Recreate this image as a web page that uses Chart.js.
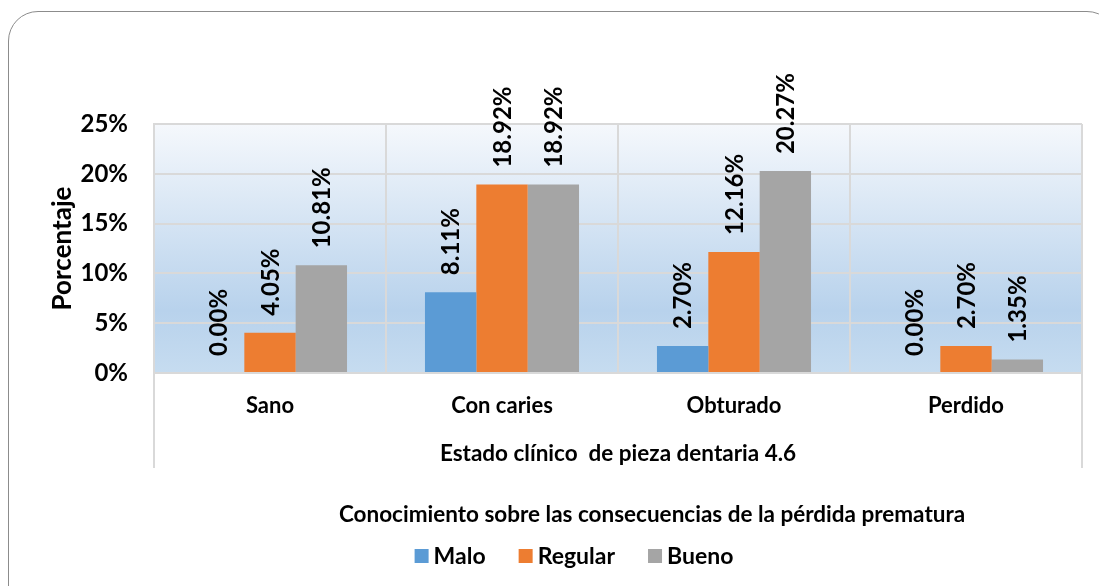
<!DOCTYPE html>
<html>
<head>
<meta charset="utf-8">
<script src="https://cdn.jsdelivr.net/npm/chart.js@4.4.0/dist/chart.umd.min.js"></script>
<style>
    html, body { margin: 0; padding: 0; background: #fff; overflow: hidden; }
    #frame {
        position: absolute; left: 8px; top: 11px; width: 1109px; height: 620px;
        border: 1.5px solid #8c8c8c; border-radius: 30px; box-sizing: border-box;
    }
    #chart { position: absolute; left: 0; top: 0; }
</style>
</head>
<body>
<div id="frame"></div>
<canvas id="chart" width="1099" height="586"></canvas>
<script>
const categories = ['Sano', 'Con caries', 'Obturado', 'Perdido'];
const malo = [0.00, 8.11, 2.70, 0.00];
const regular = [4.05, 18.92, 12.16, 2.70];
const bueno = [10.81, 18.92, 20.27, 1.35];
const seriesNames = ['Malo', 'Regular', 'Bueno'];
const seriesColors = ['#5b9bd5', '#ed7d31', '#a5a5a5'];
const yTicks = [0, 5, 10, 15, 20, 25];
const xTitle = 'Estado clínico  de pieza dentaria 4.6';
const yTitle = 'Porcentaje';
const legendTitle = 'Conocimiento sobre las consecuencias de la pérdida prematura';

const FONT = 'Lato';
const gridColor = '#d9d9d9';

// plot background gradient + frame lines under the axis labels
const backgroundPlugin = {
    id: 'plotBackground',
    beforeDraw(chart) {
        const { ctx, chartArea: a } = chart;
        const g = ctx.createLinearGradient(0, a.top, 0, a.bottom);
        g.addColorStop(0, '#f5f8fc');
        g.addColorStop(0.75, '#b8d2ec');
        g.addColorStop(1, '#c6dcf0');
        ctx.save();
        ctx.fillStyle = g;
        ctx.fillRect(a.left, a.top, a.right - a.left, a.bottom - a.top);
        ctx.restore();
    },
    afterDraw(chart) {
        const { ctx, chartArea: a } = chart;
        const xScale = chart.scales.x;
        ctx.save();
        ctx.strokeStyle = gridColor;
        ctx.lineWidth = 2;
        ctx.beginPath();
        ctx.moveTo(a.left, a.bottom);
        ctx.lineTo(a.left, xScale.bottom + 1);
        ctx.moveTo(a.right, a.bottom);
        ctx.lineTo(a.right, xScale.bottom + 1);
        ctx.stroke();
        ctx.restore();
    }
};

// rotated value labels above each bar
const valueLabels = {
    id: 'valueLabels',
    afterDatasetsDraw(chart) {
        const { ctx } = chart;
        ctx.save();
        ctx.fillStyle = '#000';
        ctx.font = 'bold 24px ' + FONT;
        ctx.textAlign = 'left';
        ctx.textBaseline = 'middle';
        chart.data.datasets.forEach((ds, i) => {
            chart.getDatasetMeta(i).data.forEach((bar, j) => {
                ctx.save();
                ctx.translate(bar.x + 1, bar.y - 17);
                ctx.rotate(-Math.PI / 2);
                ctx.fillText(ds.data[j].toFixed(2) + '%', 0, 0);
                ctx.restore();
            });
        });
        ctx.restore();
    }
};

// legend with its title, drawn under the x axis
const bottomLegend = {
    id: 'bottomLegend',
    afterDraw(chart) {
        const { ctx } = chart;
        const xScale = chart.scales.x;
        const a = chart.chartArea;
        ctx.save();
        ctx.fillStyle = '#000';
        ctx.textBaseline = 'middle';
        ctx.font = 'bold 22.5px ' + FONT;
        ctx.textAlign = 'center';
        const mid = (a.left + a.right) / 2;
        ctx.fillText(legendTitle, mid + 34, xScale.bottom + 48);

        ctx.font = 'bold 23px ' + FONT;
        const box = 14, gap = 5, spacing = 33;
        let total = 0;
        const widths = seriesNames.map(n => ctx.measureText(n).width);
        widths.forEach((w, i) => { total += box + gap + w + (i < widths.length - 1 ? spacing : 0); });
        let x = mid - 44 - total / 2;
        const y = xScale.bottom + 89;
        ctx.textAlign = 'left';
        seriesNames.forEach((n, i) => {
            ctx.fillStyle = seriesColors[i];
            ctx.fillRect(x, y - box / 2, box, box);
            ctx.fillStyle = '#000';
            ctx.fillText(n, x + box + gap, y + 1);
            x += box + gap + widths[i] + spacing;
        });
        ctx.restore();
    }
};

new Chart(document.getElementById('chart'), {
    type: 'bar',
    data: {
        labels: categories,
        datasets: [
            { label: seriesNames[0], data: malo, backgroundColor: seriesColors[0] },
            { label: seriesNames[1], data: regular, backgroundColor: seriesColors[1] },
            { label: seriesNames[2], data: bueno, backgroundColor: seriesColors[2] }
        ]
    },
    options: {
        responsive: false,
        animation: false,
        devicePixelRatio: 1,
        layout: { padding: { left: 47, right: 17, top: 124, bottom: 119 } },
        datasets: {
            bar: { categoryPercentage: 0.664, barPercentage: 1.0, borderWidth: 0 }
        },
        plugins: {
            legend: { display: false },
            tooltip: { enabled: false }
        },
        scales: {
            x: {
                grid: { color: gridColor, lineWidth: 2, offset: true, drawTicks: false },
                border: { color: gridColor, width: 2 },
                ticks: { color: '#000', font: { family: FONT, weight: 'bold', size: 22 }, padding: 20 },
                title: {
                    display: true, text: xTitle, color: '#000',
                    font: { family: FONT, weight: 'bold', size: 22.5 }, padding: 0
                },
                afterFit(scale) { scale.height = 94; }
            },
            y: {
                min: 0, max: 25,
                afterBuildTicks(scale) { scale.ticks = yTicks.map(v => ({ value: v })); },
                grid: { color: gridColor, lineWidth: 2, drawTicks: false },
                border: { color: gridColor, width: 2 },
                ticks: {
                    color: '#000', font: { family: FONT, weight: 'bold', size: 24 }, padding: 26,
                    callback: v => v + '%'
                },
                title: {
                    display: true, text: yTitle, color: '#000',
                    font: { family: FONT, weight: 'bold', size: 26 }, padding: 0
                },
                afterFit(scale) { scale.width = 107; }
            }
        }
    },
    plugins: [backgroundPlugin, valueLabels, bottomLegend]
});
</script>
</body>
</html>
